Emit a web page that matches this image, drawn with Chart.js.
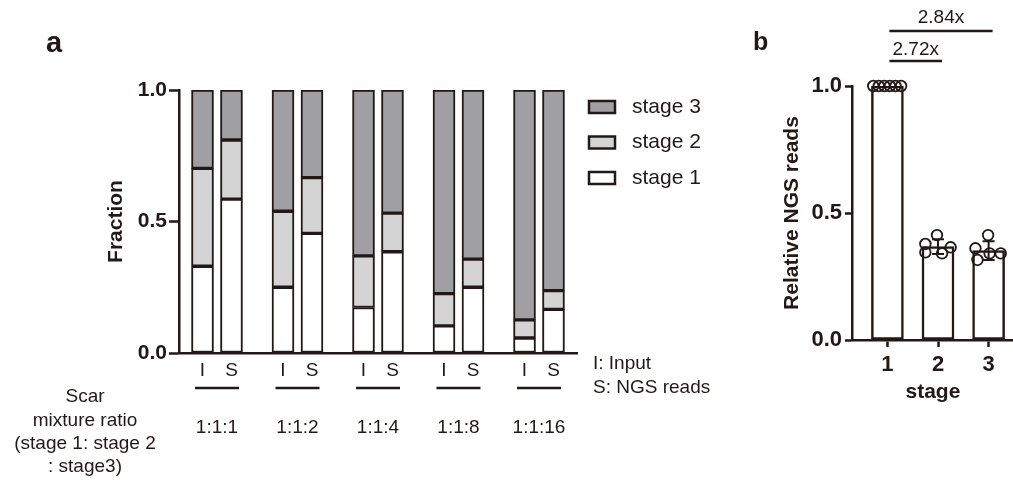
<!DOCTYPE html>
<html>
<head>
<meta charset="utf-8">
<script src="https://cdn.jsdelivr.net/npm/chart.js@4.4.1/dist/chart.umd.min.js"></script>
<style>
  body { margin: 0; background: #fff; }
  #wrap { position: relative; width: 1013px; height: 480px; overflow: hidden; }
  canvas { position: absolute; top: 0; }
  #chartA { left: 0; }
  #chartB { left: 750px; }
</style>
</head>
<body>
<div id="wrap">
  <canvas id="chartA" width="750" height="480"></canvas>
  <canvas id="chartB" width="271" height="480"></canvas>
</div>
<script>
// panel a: scar mixture ratios, two samples each (Input, NGS reads)
const ratios = ['1:1:1', '1:1:2', '1:1:4', '1:1:8', '1:1:16'];
const samples = ['I', 'S'];
// order: I, S for each ratio
const stage1 = [0.330, 0.585, 0.250, 0.455, 0.173, 0.385, 0.103, 0.250, 0.057, 0.166];
const stage2 = [0.372, 0.225, 0.289, 0.212, 0.196, 0.147, 0.123, 0.107, 0.069, 0.071];
const stage3 = [0.298, 0.190, 0.461, 0.333, 0.631, 0.468, 0.774, 0.643, 0.874, 0.763];
const yTicksA = [0, 0.5, 1];

// panel b: relative NGS reads per stage
const stagesB = [1, 2, 3];
const meanB = [1.0, 0.368, 0.352];
const sdB = [0, 0.029, 0.037];
const ptsB = [
  [1, 1, 1, 1, 1, 1],
  [0.413, 0.378, 0.345, 0.341, 0.365],
  [0.413, 0.361, 0.315, 0.341, 0.341]
];
const jitterB = [
  [-0.28, -0.17, -0.06, 0.05, 0.16, 0.27],
  [-0.02, -0.25, -0.25, 0.08, 0.25],
  [-0.01, -0.26, -0.22, 0.02, 0.24]
];
const foldLabels = ['2.72x', '2.84x'];
const yTicksB = [0, 0.5, 1];

const INK = '#231815';
const FONT = "'Liberation Sans', Arial, sans-serif";
const pairGap = 0.36;

const barX = [];
ratios.forEach((r, g) => { barX.push(g); barX.push(g + pairGap); });

function stackData(vals) {
  return vals.map((v, i) => ({ x: barX[i], y: v }));
}

const notesPluginA = {
  id: 'notesA',
  afterDraw(chart) {
    const ctx = chart.ctx;
    const xs = chart.scales.x;
    ctx.save();
    ctx.fillStyle = INK;
    ctx.strokeStyle = INK;
    ctx.textBaseline = 'middle';

    // group underlines + ratio labels
    ctx.font = '19px ' + FONT;
    ctx.textAlign = 'center';
    ratios.forEach((r, g) => {
      const c = (xs.getPixelForValue(g) + xs.getPixelForValue(g + pairGap)) / 2;
      ctx.lineWidth = 2.5;
      ctx.beginPath();
      ctx.moveTo(c - 22, 388);
      ctx.lineTo(c + 22, 388);
      ctx.stroke();
      ctx.fillText(r, c, 428);
    });

    // left note
    ['Scar', 'mixture ratio', '(stage 1: stage 2', ': stage3)'].forEach((t, i) => {
      ctx.fillText(t, 85, 397 + i * 23.3);
    });

    // I / S key
    ctx.textAlign = 'left';
    ctx.fillText('I: Input', 593, 364);
    ctx.fillText('S: NGS reads', 593, 388);

    // legend (stage 3 on top)
    ctx.font = '21px ' + FONT;
    const ds = chart.data.datasets.slice().reverse();
    ds.forEach((d, i) => {
      const y = 107 + i * 35.5;
      ctx.fillStyle = d.backgroundColor;
      ctx.fillRect(589, y - 6, 26, 12);
      ctx.lineWidth = 2.5;
      ctx.strokeRect(589, y - 6, 26, 12);
      ctx.fillStyle = INK;
      ctx.fillText(d.label, 632, y);
    });

    // panel letter
    ctx.font = 'bold 29px ' + FONT;
    ctx.textBaseline = 'alphabetic';
    ctx.fillText('a', 46, 52);
    ctx.restore();
  }
};

new Chart(document.getElementById('chartA'), {
  type: 'bar',
  data: {
    datasets: [
      { label: 'stage 1', data: stackData(stage1), backgroundColor: '#ffffff' },
      { label: 'stage 2', data: stackData(stage2), backgroundColor: '#d4d4d4' },
      { label: 'stage 3', data: stackData(stage3), backgroundColor: '#a09fa4' }
    ].map(d => Object.assign(d, {
      borderColor: INK, borderWidth: 2, borderSkipped: false, barThickness: 22
    }))
  },
  options: {
    responsive: false,
    animation: false,
    events: [],
    layout: { padding: { left: 90, top: 90, right: 173, bottom: 87 } },
    plugins: { legend: { display: false }, tooltip: { enabled: false } },
    scales: {
      x: {
        type: 'linear', stacked: true, offset: false, min: -0.292, max: 4.652,
        afterBuildTicks: s => { s.ticks = barX.map(v => ({ value: v })); },
        afterFit: s => { s.height = 40; },
        ticks: {
          callback: (v, i) => samples[i % 2],
          font: { family: FONT, size: 19 }, color: INK, padding: 6, maxRotation: 0, autoSkip: false
        },
        grid: { display: false, drawTicks: false },
        border: { display: true, color: INK, width: 2.5 }
      },
      y: {
        stacked: true, min: 0, max: 1,
        afterBuildTicks: s => { s.ticks = yTicksA.map(v => ({ value: v })); },
        afterFit: s => { s.width = 89; },
        ticks: {
          callback: v => v.toFixed(1),
          font: { family: FONT, size: 21, weight: 'bold' }, color: INK, padding: 2
        },
        grid: { drawOnChartArea: false, tickLength: 10, tickWidth: 2.5, tickColor: INK },
        border: { display: true, color: INK, width: 2.5 },
        title: {
          display: true, text: 'Fraction', color: INK,
          font: { family: FONT, size: 21, weight: 'bold' }, padding: { top: 14, bottom: 0 }
        }
      }
    }
  },
  plugins: [notesPluginA]
});

const notesPluginB = {
  id: 'notesB',
  afterDatasetsDraw(chart) {
    const ctx = chart.ctx;
    const xs = chart.scales.x, ys = chart.scales.y;
    ctx.save();
    ctx.strokeStyle = INK;
    ctx.lineWidth = 2;
    stagesB.forEach((s, i) => {
      if (!sdB[i]) return;
      const x = xs.getPixelForValue(s);
      const yTop = ys.getPixelForValue(meanB[i] + sdB[i]);
      const yBot = ys.getPixelForValue(meanB[i] - sdB[i]);
      ctx.beginPath();
      ctx.moveTo(x, yBot); ctx.lineTo(x, yTop);
      ctx.moveTo(x - 6, yTop); ctx.lineTo(x + 6, yTop);
      ctx.moveTo(x - 6, yBot); ctx.lineTo(x + 6, yBot);
      ctx.stroke();
    });
    ctx.restore();
  },
  afterDraw(chart) {
    const ctx = chart.ctx;
    const xs = chart.scales.x;
    ctx.save();
    ctx.fillStyle = INK;
    ctx.strokeStyle = INK;
    ctx.lineWidth = 2.5;
    ctx.font = '19px ' + FONT;
    ctx.textAlign = 'center';
    ctx.textBaseline = 'middle';
    const brackets = [
      { to: 2, lineY: 61, textY: 50 },
      { to: 3, lineY: 31, textY: 18 }
    ];
    brackets.forEach((b, i) => {
      const x0 = xs.getPixelForValue(1) + 2;
      const x1 = xs.getPixelForValue(b.to) + 4;
      ctx.beginPath();
      ctx.moveTo(x0, b.lineY); ctx.lineTo(x1, b.lineY);
      ctx.stroke();
      ctx.fillText(foldLabels[i], (x0 + x1) / 2, b.textY);
    });
    ctx.font = 'bold 25px ' + FONT;
    ctx.textAlign = 'left';
    ctx.textBaseline = 'alphabetic';
    ctx.fillText('b', 3, 50);
    ctx.restore();
  }
};

const pointData = [];
ptsB.forEach((arr, i) => arr.forEach((v, j) => pointData.push({ x: stagesB[i] + jitterB[i][j], y: v })));

new Chart(document.getElementById('chartB'), {
  type: 'bar',
  data: {
    datasets: [
      {
        type: 'scatter', data: pointData, order: 0, clip: false,
        pointRadius: 5.3, pointBorderWidth: 1.8, borderColor: INK,
        pointBackgroundColor: 'rgba(255,255,255,0)', backgroundColor: 'rgba(255,255,255,0)'
      },
      {
        data: meanB.map((m, i) => ({ x: stagesB[i], y: m })), order: 1,
        backgroundColor: '#ffffff', borderColor: INK, borderWidth: 2.5, borderSkipped: false,
        barThickness: 32
      }
    ]
  },
  options: {
    responsive: false,
    animation: false,
    events: [],
    layout: { padding: { left: 0, top: 86, right: 0, bottom: 70 } },
    plugins: { legend: { display: false }, tooltip: { enabled: false } },
    scales: {
      x: {
        type: 'linear', offset: false, min: 0.3, max: 3.5,
        afterBuildTicks: s => { s.ticks = stagesB.map(v => ({ value: v })); },
        afterFit: s => { s.height = 70; },
        ticks: {
          callback: v => String(v),
          font: { family: FONT, size: 22, weight: 'bold' }, color: INK, padding: 5, maxRotation: 0
        },
        grid: { offset: false, drawOnChartArea: false, tickLength: 7, tickWidth: 2.5, tickColor: INK },
        border: { display: true, color: INK, width: 2.5 },
        title: {
          display: true, text: 'stage', color: INK,
          font: { family: FONT, size: 21, weight: 'bold' }, padding: { top: 0, bottom: 5 }
        }
      },
      y: {
        min: 0, max: 1,
        afterBuildTicks: s => { s.ticks = yTicksB.map(v => ({ value: v })); },
        afterFit: s => { s.width = 102; },
        ticks: {
          callback: v => v.toFixed(1),
          font: { family: FONT, size: 22, weight: 'bold' }, color: INK, padding: 3
        },
        grid: { drawOnChartArea: false, tickLength: 7, tickWidth: 2.5, tickColor: INK },
        border: { display: true, color: INK, width: 2.5 },
        title: {
          display: true, text: 'Relative NGS reads', color: INK,
          font: { family: FONT, size: 21, weight: 'bold' }, padding: { top: 30, bottom: 0 }
        }
      }
    }
  },
  plugins: [notesPluginB]
});
</script>
</body>
</html>
